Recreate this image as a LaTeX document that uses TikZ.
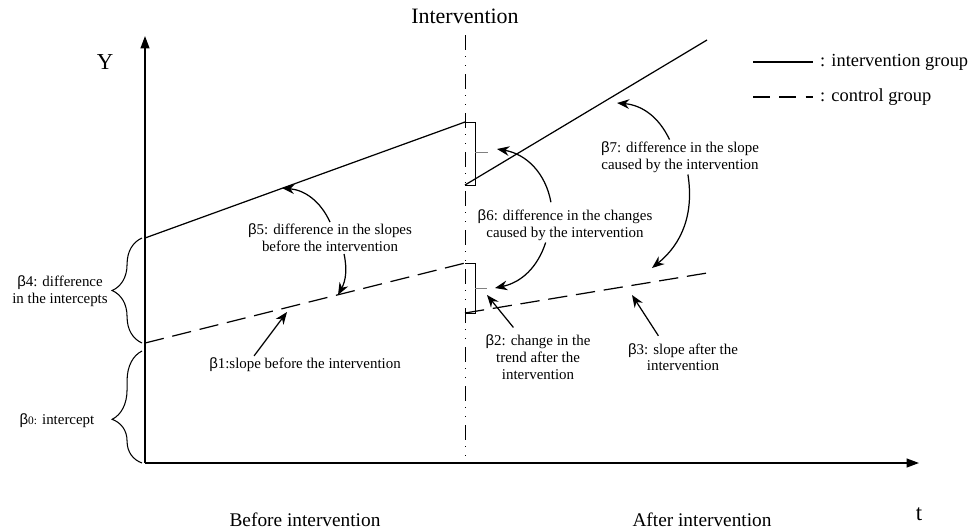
\documentclass[tikz,border=0pt]{standalone}
\usepackage{fontspec}
\setmainfont{Liberation Serif}
\newfontfamily\betafont{Liberation Sans}
\usetikzlibrary{arrows.meta, decorations.pathreplacing}
\newcommand{\bt}[1]{{\betafont β}#1}

\begin{document}
\begin{tikzpicture}[x=0.02cm, y=-0.02cm,
    lbl/.style={align=center, inner sep=1pt, font=\fontsize{8.5}{9.5}\selectfont},
    big/.style={inner sep=1pt, font=\fontsize{11}{13}\selectfont},
    axis/.style={line width=0.9pt, -{Triangle[length=7pt, width=5pt]}},
    grp/.style={line width=0.7pt},
    ctrl/.style={line width=0.7pt, dash pattern=on 11pt off 5pt},
    interv/.style={line width=0.45pt, dash pattern=on 8.5pt off 3.5pt on 0.6pt off 4.5pt on 0.6pt off 4.5pt},
    note/.style={line width=0.7pt, -{Stealth[length=7pt, width=5.5pt]}},
    brk/.style={line width=0.5pt},
    brc/.style={line width=0.6pt, decorate, decoration={brace, amplitude=17pt}}]
    \useasboundingbox (0,0) rectangle (972,531);
    % axes
    \coordinate (O) at (145,463);
    \coordinate (ytip) at (145,36);
    \coordinate (ttip) at (919,463);
    \draw[axis] (O) -- (ytip);
    \draw[axis] (O) -- (ttip);
    \node[font=\fontsize{13}{15}\selectfont] (ylab) at (105,62) {Y};
    \node[font=\fontsize{13}{15}\selectfont] (tlab) at (919,514) {t};
    \node[big] (before) at (305,520) {Before intervention};
    \node[big] (after) at (702,520) {After intervention};

    % intervention time
    \coordinate (itop) at (465,35);
    \coordinate (ibot) at (465,463);
    \draw[interv] (itop) -- (ibot);
    \node[font=\fontsize{12.5}{14}\selectfont] (ilab) at (465,16) {Intervention};

    % groups
    \coordinate (ia) at (145,238);
    \coordinate (ib) at (465,122);
    \coordinate (ic) at (465,185);
    \coordinate (id) at (707,40);
    \coordinate (ca) at (145,343);
    \coordinate (cb) at (465,263);
    \coordinate (cc) at (465,313);
    \coordinate (cd) at (707,273);
    \draw[grp] (ia) -- (ib);
    \draw[grp] (ic) -- (id);
    \draw[ctrl] (ca) -- (cb);
    \draw[ctrl] (cc) -- (cd);

    % small brackets at the jump
    \draw[brk] (ib) -- (475,122) -- (475,185) -- (ic);
    \draw[brk, gray] (475,152) -- (488,152);
    \draw[brk] (cb) -- (475,263) -- (475,313) -- (cc);
    \draw[brk, gray] (475,288) -- (487,288);

    % braces on the Y axis
    \draw[brc] (142,343) -- (142,238);
    \draw[brc, decoration={aspect=0.39}] (142,463) -- (142,351);
    \node[lbl] (b4) at (60,291) {\bt4: difference\\in the intercepts};
    \node[lbl] (b0) at (57,421) {{\betafont β}{\fontsize{6.5}{7}\selectfont 0:} intercept};

    % labels
    \node[lbl] (b5) at (330,238) {\bt5: difference in the slopes\\before the intervention};
    \node[lbl] (b1) at (305,365) {\bt1:slope before the intervention};
    \node[lbl] (b6) at (565,225) {\bt6: difference in the changes\\caused by the intervention};
    \node[lbl] (b7) at (680,157) {\bt7: difference in the slope\\caused by the intervention};
    \node[lbl] (b2) at (538,357) {\bt2: change in the\\trend after the\\intervention};
    \node[lbl] (b3) at (683,357) {\bt3: slope after the\\intervention};

    % arrow tips
    \coordinate (p5a) at (282,188);
    \coordinate (p5b) at (338,295);
    \coordinate (p1) at (287,312);
    \coordinate (p6a) at (497,149);
    \coordinate (p6b) at (495,288);
    \coordinate (p2) at (487,295);
    \coordinate (p3) at (632,295);
    \coordinate (p7a) at (617,103);
    \coordinate (p7b) at (652,268);

    \draw[note] (b5.north) to[bend right=30] (p5a);
    \draw[note] ([xshift=8pt]b5.south) to[bend left=20] (p5b);
    \draw[note] ([xshift=-29pt]b1.north) -- (p1);
    \draw[note] ([xshift=-8pt,yshift=3pt]b6.north) to[bend right=35] (p6a);
    \draw[note] ([xshift=-11pt]b6.south) to[bend left=30] (p6b);
    \draw[note] ([xshift=-14pt,yshift=3pt]b2.north) -- (p2);
    \draw[note] ([xshift=-14pt,yshift=3pt]b3.north) -- (p3);
    \draw[note] ([xshift=-6pt]b7.north) to[bend right=30] (p7a);
    \draw[note] ([xshift=4.5pt]b7.south) to[bend left=30] (p7b);

    % legend
    \coordinate (la) at (753,62);
    \coordinate (lb) at (813,62);
    \coordinate (lc) at (753,97);
    \coordinate (ld) at (813,97);
    \draw[grp] (la) -- (lb);
    \draw[ctrl, dash pattern=on 9.5pt off 5.5pt] (lc) -- (ld);
    \node[anchor=west, inner sep=1pt, font=\fontsize{10.5}{12}\selectfont] (legi) at (818,62) {: intervention group};
    \node[anchor=west, inner sep=1pt, font=\fontsize{10.5}{12}\selectfont] (legc) at (818,97) {: control group};
\end{tikzpicture}
\end{document}
